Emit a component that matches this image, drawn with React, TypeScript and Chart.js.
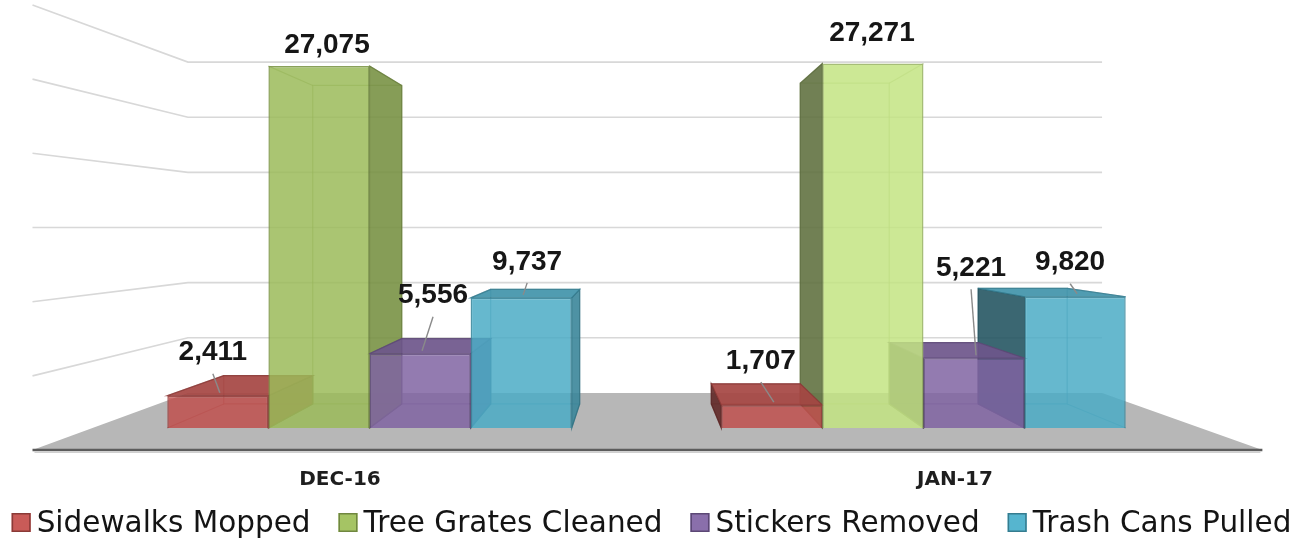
import React, { useEffect, useRef } from 'react';
import { Chart, registerables } from 'chart.js';

Chart.register(...registerables);

// ---- data ----
const categories = ['DEC-16', 'JAN-17'];
const seriesNames = ['Sidewalks Mopped', 'Tree Grates Cleaned', 'Stickers Removed', 'Trash Cans Pulled'];
const sidewalksMopped = [2411, 1707];
const treeGratesCleaned = [27075, 27271];
const stickersRemoved = [5556, 5221];
const trashCansPulled = [9737, 9820];
const valueTicks = [0, 5000, 10000, 15000, 20000, 25000, 30000];

const seriesValues = [sidewalksMopped, treeGratesCleaned, stickersRemoved, trashCansPulled];

// ---- styling / layout config ----
const baseColors: number[][][] = [
  [[192, 80, 77], [192, 80, 77]],
  [[155, 187, 89], [195, 228, 130]],
  [[128, 100, 162], [128, 100, 162]],
  [[75, 172, 198], [75, 172, 198]],
];
const legendColors: number[][] = [[192, 80, 77], [155, 187, 89], [128, 100, 162], [75, 172, 198]];
// label centre offsets relative to bar front-top centre
const labelOffsets: number[][][] = [
  [[-5, -43], [-11, -44]],
  [[8, -21], [-1, -30]],
  [[13, -58], [-3, -90]],
  [[6, -36], [-5, -34]],
];

const VX_FRAC = 0.4923;
const EYE_VALUE = 15000;
const BAR_DEPTH = 0.88;
const WALL_DEPTH = 0.825;
const FLOOR_FRONT = 1.11;

function shade(c: number[], f: number, a: number) {
  return `rgba(${Math.round(c[0] * f)},${Math.round(c[1] * f)},${Math.round(c[2] * f)},${a})`;
}

function fmt(v: number) {
  return v.toLocaleString('en-US');
}

function geometry(chart: any) {
  const ca = chart.chartArea;
  const ys = chart.scales.y;
  const vx = ca.left + VX_FRAC * (ca.right - ca.left);
  const vy = ys.getPixelForValue(EYE_VALUE);
  const P = (px: number, py: number, s: number): [number, number] => [vx + (px - vx) * s, vy + (py - vy) * s];
  return { ca, ys, vx, vy, P };
}

function poly(ctx: CanvasRenderingContext2D, pts: [number, number][]) {
  ctx.beginPath();
  ctx.moveTo(pts[0][0], pts[0][1]);
  for (let i = 1; i < pts.length; i++) ctx.lineTo(pts[i][0], pts[i][1]);
  ctx.closePath();
}

const scenePlugin = {
  id: 'scene3d',
  beforeDatasetsDraw(chart: any) {
    const ctx: CanvasRenderingContext2D = chart.ctx;
    const { ca, ys, vx, vy, P } = geometry(chart);
    ctx.save();

    // back wall + side wall gridlines
    ctx.strokeStyle = '#d8d8d8';
    ctx.lineWidth = 1.6;
    valueTicks.forEach((v) => {
      if (v === 0) return;
      const py = ys.getPixelForValue(v);
      const fl = P(ca.left, py, FLOOR_FRONT);
      const bl = P(ca.left, py, WALL_DEPTH);
      const br = P(ca.right, py, WALL_DEPTH);
      ctx.beginPath();
      ctx.moveTo(fl[0], fl[1]);
      ctx.lineTo(bl[0], bl[1]);
      ctx.lineTo(br[0], br[1]);
      ctx.stroke();
    });

    // floor
    const y0 = ys.getPixelForValue(0);
    const fbl = P(ca.left, y0, WALL_DEPTH);
    const fbr = P(ca.right, y0, WALL_DEPTH);
    const ffr = P(ca.right, y0, FLOOR_FRONT);
    const ffl = P(ca.left, y0, FLOOR_FRONT);
    ctx.fillStyle = '#b7b7b7';
    poly(ctx, [fbl, fbr, ffr, ffl]);
    ctx.fill();
    ctx.strokeStyle = '#5c5c5c';
    ctx.lineWidth = 2.5;
    ctx.beginPath();
    ctx.moveTo(ffl[0], ffl[1]);
    ctx.lineTo(ffr[0], ffr[1]);
    ctx.stroke();
    ctx.strokeStyle = '#d0d0d0';
    ctx.lineWidth = 1.5;
    ctx.beginPath();
    ctx.moveTo(ffl[0] + 2, ffl[1] + 2.2);
    ctx.lineTo(ffr[0] - 2, ffr[1] + 2.2);
    ctx.stroke();

    // 3D parts of bars
    const items: any[] = [];
    chart.data.datasets.forEach((_ds: any, di: number) => {
      const meta = chart.getDatasetMeta(di);
      meta.data.forEach((el: any, i: number) => {
        const p = el.getProps(['x', 'y', 'base', 'width'], true);
        items.push({ di, i, l: p.x - p.width / 2, r: p.x + p.width / 2, t: p.y, b: p.base, cx: p.x });
      });
    });
    const leftItems = items.filter((it) => it.cx < vx).sort((a, b) => a.cx - b.cx);
    const rightItems = items.filter((it) => it.cx >= vx).sort((a, b) => b.cx - a.cx);
    [...leftItems, ...rightItems].forEach((it) => {
      const c = baseColors[it.di][it.i];
      const k = BAR_DEPTH;
      const ftl: [number, number] = [it.l, it.t];
      const ftr: [number, number] = [it.r, it.t];
      const fbr2: [number, number] = [it.r, it.b];
      const fbl2: [number, number] = [it.l, it.b];
      const btl = P(it.l, it.t, k);
      const btr = P(it.r, it.t, k);
      const bbr = P(it.r, it.b, k);
      const bbl = P(it.l, it.b, k);

      // hidden edges (seen through the transparent box)
      ctx.strokeStyle = shade(c, 0.7, 0.5);
      ctx.lineWidth = 1.2;
      poly(ctx, [btl, btr, bbr, bbl]);
      ctx.stroke();
      [[ftl, btl], [ftr, btr], [fbr2, bbr], [fbl2, bbl]].forEach(([a, b]) => {
        ctx.beginPath();
        ctx.moveTo(a[0], a[1]);
        ctx.lineTo(b[0], b[1]);
        ctx.stroke();
      });

      // visible side
      if (it.r < vx) {
        ctx.fillStyle = shade(c, 0.78, 0.9);
        poly(ctx, [ftr, btr, bbr, fbr2]);
        ctx.fill();
        ctx.strokeStyle = shade(c, 0.65, 0.8);
        ctx.stroke();
      } else if (it.l > vx) {
        ctx.fillStyle = shade(c, 0.5, 0.9);
        poly(ctx, [ftl, btl, bbl, fbl2]);
        ctx.fill();
        ctx.strokeStyle = shade(c, 0.45, 0.8);
        ctx.stroke();
      }
      // visible top
      if (it.t > vy) {
        ctx.fillStyle = shade(c, 0.86, 0.92);
        poly(ctx, [ftl, ftr, btr, btl]);
        ctx.fill();
        ctx.strokeStyle = shade(c, 0.72, 0.8);
        ctx.stroke();
      }
    });
    ctx.restore();
  },
  afterDatasetsDraw(chart: any) {
    const ctx: CanvasRenderingContext2D = chart.ctx;
    const { ca, ys, P } = geometry(chart);
    ctx.save();

    // data labels + leader lines
    chart.data.datasets.forEach((ds: any, di: number) => {
      const meta = chart.getDatasetMeta(di);
      meta.data.forEach((el: any, i: number) => {
        const p = el.getProps(['x', 'y'], true);
        const off = labelOffsets[di][i];
        const lx = p.x + off[0];
        const ly = p.y + off[1];
        const sy = ly + 21;
        const ey = p.y - 3;
        if (ey - sy > 6) {
          ctx.strokeStyle = '#8a8a8a';
          ctx.lineWidth = 1.4;
          ctx.beginPath();
          ctx.moveTo(lx, sy);
          ctx.lineTo(p.x + 2, ey);
          ctx.stroke();
        }
        ctx.fillStyle = '#161616';
        ctx.font = 'bold 28px "Liberation Sans"';
        ctx.textAlign = 'center';
        ctx.textBaseline = 'middle';
        ctx.fillText(fmt(ds.data[i]), lx, ly);
      });
    });

    // category labels on the floor's front edge
    const xs = chart.scales.x;
    const y0 = ys.getPixelForValue(0);
    ctx.fillStyle = '#1e1e1e';
    ctx.font = 'bold 20px "DejaVu Sans"';
    ctx.textAlign = 'center';
    ctx.textBaseline = 'middle';
    categories.forEach((cat, i) => {
      const pt = P(xs.getPixelForValue(i), y0, FLOOR_FRONT);
      ctx.fillText(cat, pt[0], pt[1] + 30);
    });

    // legend
    ctx.font = '29.5px "DejaVu Sans"';
    ctx.textAlign = 'left';
    ctx.textBaseline = 'alphabetic';
    const box = 19;
    const gap = 6;
    const itemGap = 28;
    const widths = seriesNames.map((n) => ctx.measureText(n).width);
    const total = widths.reduce((s, w) => s + w + box + gap, 0) + itemGap * (seriesNames.length - 1);
    let x = (chart.width - total) / 2;
    const baseY = 532;
    seriesNames.forEach((n, i) => {
      const c = legendColors[i];
      ctx.fillStyle = shade(c, 1.03, 0.95);
      ctx.fillRect(x, baseY - 19, box, box);
      ctx.strokeStyle = shade(c, 0.72, 1);
      ctx.lineWidth = 1.5;
      ctx.strokeRect(x + 0.75, baseY - 18.25, box - 1.5, box - 1.5);
      ctx.fillStyle = '#141414';
      ctx.fillText(n, x + box + gap, baseY);
      x += box + gap + widths[i] + itemGap;
    });
    ctx.restore();
  },
};

export default function App() {
  const ref = useRef<HTMLCanvasElement | null>(null);
  useEffect(() => {
    document.body.style.margin = '0';
    const canvas = ref.current;
    if (!canvas) return;
    const chart = new Chart(canvas, {
      type: 'bar',
      data: {
        labels: categories,
        datasets: seriesValues.map((vals, di) => ({
          label: seriesNames[di],
          data: vals,
          backgroundColor: vals.map((_v, i) => shade(baseColors[di][i], 1, 0.85)),
          borderColor: vals.map((_v, i) => shade(baseColors[di][i], 0.8, 0.9)),
          borderWidth: 1.5,
          categoryPercentage: 0.73,
          barPercentage: 1,
        })),
      },
      options: {
        responsive: false,
        animation: false,
        devicePixelRatio: 1,
        layout: { padding: { left: 92.5, right: 102.5, top: 27, bottom: 111 } },
        scales: {
          x: { display: false },
          y: { display: false, min: 0, max: 30000 },
        },
        plugins: { legend: { display: false }, tooltip: { enabled: false } },
      },
      plugins: [scenePlugin],
    } as any);
    return () => chart.destroy();
  }, []);
  return (
    <div style={{ width: 1303, height: 539, background: '#ffffff' }}>
      <canvas ref={ref} width={1303} height={539} style={{ display: 'block' }} />
    </div>
  );
}
